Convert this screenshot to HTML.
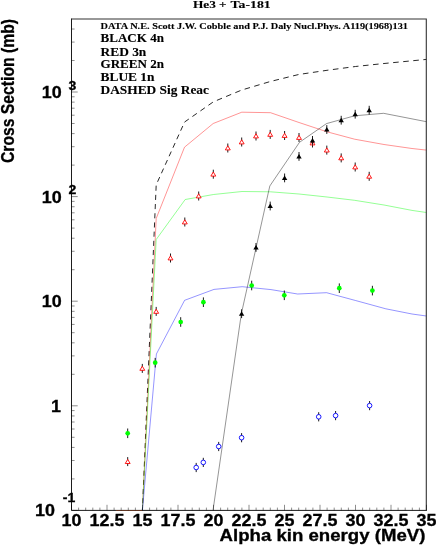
<!DOCTYPE html>
<html><head><meta charset="utf-8"><title>He3 + Ta-181</title>
<style>html,body{margin:0;padding:0;background:#fff;}svg{display:block;will-change:transform;}text{font-family:"Liberation Sans",sans-serif;font-weight:bold;fill:#000;stroke:#000;stroke-width:0.3px;}.t{font-family:"Liberation Serif",serif;font-weight:bold;stroke-width:0.12px;}</style>
</head><body>
<svg width="436" height="545" viewBox="0 0 436 545">
<rect x="0" y="0" width="436" height="545" fill="#fff"/>
<polyline transform="scale(1.1,1)" points="129.45,510.4 142.00,184.8 167.82,122.0 194.00,101.8 219.82,90.0 245.73,81.5 271.55,74.5 297.27,70.3 323.18,66.5 349.09,63.5 374.55,60.8 387.64,59.4" fill="none" stroke="#000" stroke-width="0.8" stroke-dasharray="5.1 4.1" stroke-dashoffset="2.1"/>
<polyline points="142.4,510.4 156.2,218.5 184.5,147.2 213.2,123.5 241.8,112.2 270.5,112.7 299.0,122.5 327.0,131.8 354.6,139.2 384.0,144.5 412.0,148.5 426.4,150.1" fill="none" stroke="#f00" stroke-width="0.42" stroke-linejoin="round" />
<polyline points="142.4,510.4 156.2,239.5 185.2,199.5 213.5,194.5 242.0,191.5 270.4,191.8 299.0,194.0 327.0,197.0 354.6,200.3 384.0,205.0 412.0,210.4 426.4,212.5" fill="none" stroke="#0f0" stroke-width="0.42" stroke-linejoin="round" />
<polyline points="142.4,510.4 156.4,354.0 184.6,300.3 214.0,289.4 242.2,286.7 271.0,289.6 297.6,294.0 326.6,292.7 355.5,300.5 385.8,308.8 412.0,314.0 426.4,316.0" fill="none" stroke="#00f" stroke-width="0.42" stroke-linejoin="round" />
<polyline points="213.0,510.4 241.3,314.0 269.8,186.0 299.5,142.3 326.5,123.6 354.6,115.8 383.6,113.3 426.4,121.7" fill="none" stroke="#000" stroke-width="0.42" stroke-linejoin="round" />
<line x1="127.7" y1="457.1" x2="127.7" y2="466.1" stroke="#000" stroke-width="0.9"/>
<path d="M125.25,463.5 L130.15,463.5 L127.7,459.4 Z" fill="#fff" stroke="#f00" stroke-width="0.9"/>
<line x1="142.3" y1="363.9" x2="142.3" y2="372.9" stroke="#000" stroke-width="0.9"/>
<path d="M139.85,370.3 L144.75,370.3 L142.3,366.2 Z" fill="#fff" stroke="#f00" stroke-width="0.9"/>
<line x1="156.2" y1="306.9" x2="156.2" y2="315.9" stroke="#000" stroke-width="0.9"/>
<path d="M153.75,313.3 L158.65,313.3 L156.2,309.2 Z" fill="#fff" stroke="#f00" stroke-width="0.9"/>
<line x1="170.5" y1="253.5" x2="170.5" y2="262.5" stroke="#000" stroke-width="0.9"/>
<path d="M168.05,259.9 L172.95,259.9 L170.5,255.8 Z" fill="#fff" stroke="#f00" stroke-width="0.9"/>
<line x1="184.8" y1="217.5" x2="184.8" y2="226.5" stroke="#000" stroke-width="0.9"/>
<path d="M182.35,223.9 L187.25,223.9 L184.8,219.8 Z" fill="#fff" stroke="#f00" stroke-width="0.9"/>
<line x1="198.7" y1="191.5" x2="198.7" y2="200.5" stroke="#000" stroke-width="0.9"/>
<path d="M196.25,197.9 L201.15,197.9 L198.7,193.8 Z" fill="#fff" stroke="#f00" stroke-width="0.9"/>
<line x1="213.3" y1="169.7" x2="213.3" y2="178.7" stroke="#000" stroke-width="0.9"/>
<path d="M210.85,176.1 L215.75,176.1 L213.3,172.0 Z" fill="#fff" stroke="#f00" stroke-width="0.9"/>
<line x1="227.8" y1="143.5" x2="227.8" y2="152.5" stroke="#000" stroke-width="0.9"/>
<path d="M225.35,149.9 L230.25,149.9 L227.8,145.8 Z" fill="#fff" stroke="#f00" stroke-width="0.9"/>
<line x1="241.7" y1="137.5" x2="241.7" y2="146.5" stroke="#000" stroke-width="0.9"/>
<path d="M239.25,143.9 L244.15,143.9 L241.7,139.8 Z" fill="#fff" stroke="#f00" stroke-width="0.9"/>
<line x1="256.0" y1="131.5" x2="256.0" y2="140.5" stroke="#000" stroke-width="0.9"/>
<path d="M253.55,137.9 L258.45,137.9 L256.0,133.8 Z" fill="#fff" stroke="#f00" stroke-width="0.9"/>
<line x1="270.2" y1="129.9" x2="270.2" y2="138.9" stroke="#000" stroke-width="0.9"/>
<path d="M267.75,136.3 L272.65,136.3 L270.2,132.2 Z" fill="#fff" stroke="#f00" stroke-width="0.9"/>
<line x1="284.6" y1="131.0" x2="284.6" y2="140.0" stroke="#000" stroke-width="0.9"/>
<path d="M282.15,137.4 L287.05,137.4 L284.6,133.3 Z" fill="#fff" stroke="#f00" stroke-width="0.9"/>
<line x1="299.0" y1="133.0" x2="299.0" y2="142.0" stroke="#000" stroke-width="0.9"/>
<path d="M296.55,139.4 L301.45,139.4 L299.0,135.3 Z" fill="#fff" stroke="#f00" stroke-width="0.9"/>
<line x1="312.5" y1="138.5" x2="312.5" y2="147.5" stroke="#000" stroke-width="0.9"/>
<path d="M310.05,144.9 L314.95,144.9 L312.5,140.8 Z" fill="#fff" stroke="#f00" stroke-width="0.9"/>
<line x1="326.8" y1="145.6" x2="326.8" y2="154.6" stroke="#000" stroke-width="0.9"/>
<path d="M324.35,152.0 L329.25,152.0 L326.8,147.9 Z" fill="#fff" stroke="#f00" stroke-width="0.9"/>
<line x1="341.2" y1="153.4" x2="341.2" y2="162.4" stroke="#000" stroke-width="0.9"/>
<path d="M338.75,159.8 L343.65,159.8 L341.2,155.7 Z" fill="#fff" stroke="#f00" stroke-width="0.9"/>
<line x1="355.2" y1="162.5" x2="355.2" y2="171.5" stroke="#000" stroke-width="0.9"/>
<path d="M352.75,168.9 L357.65,168.9 L355.2,164.8 Z" fill="#fff" stroke="#f00" stroke-width="0.9"/>
<line x1="369.2" y1="171.8" x2="369.2" y2="180.8" stroke="#000" stroke-width="0.9"/>
<path d="M366.75,178.2 L371.65,178.2 L369.2,174.1 Z" fill="#fff" stroke="#f00" stroke-width="0.9"/>
<line x1="241.6" y1="309.3" x2="241.6" y2="318.1" stroke="#000" stroke-width="0.9"/>
<path d="M238.9,315.7 L244.3,315.7 L241.6,311.3 Z" fill="#000"/>
<line x1="256.0" y1="243.0" x2="256.0" y2="251.8" stroke="#000" stroke-width="0.9"/>
<path d="M253.3,249.4 L258.7,249.4 L256.0,245.0 Z" fill="#000"/>
<line x1="270.2" y1="201.6" x2="270.2" y2="210.4" stroke="#000" stroke-width="0.9"/>
<path d="M267.5,208.0 L272.9,208.0 L270.2,203.6 Z" fill="#000"/>
<line x1="284.6" y1="173.5" x2="284.6" y2="182.3" stroke="#000" stroke-width="0.9"/>
<path d="M281.9,179.9 L287.3,179.9 L284.6,175.5 Z" fill="#000"/>
<line x1="299.0" y1="152.0" x2="299.0" y2="160.8" stroke="#000" stroke-width="0.9"/>
<path d="M296.3,158.4 L301.7,158.4 L299.0,154.0 Z" fill="#000"/>
<line x1="312.5" y1="136.0" x2="312.5" y2="144.8" stroke="#000" stroke-width="0.9"/>
<path d="M309.8,142.4 L315.2,142.4 L312.5,138.0 Z" fill="#000"/>
<line x1="326.8" y1="125.1" x2="326.8" y2="133.9" stroke="#000" stroke-width="0.9"/>
<path d="M324.1,131.5 L329.5,131.5 L326.8,127.1 Z" fill="#000"/>
<line x1="341.2" y1="115.8" x2="341.2" y2="124.6" stroke="#000" stroke-width="0.9"/>
<path d="M338.5,122.2 L343.9,122.2 L341.2,117.8 Z" fill="#000"/>
<line x1="355.2" y1="109.8" x2="355.2" y2="118.6" stroke="#000" stroke-width="0.9"/>
<path d="M352.5,116.2 L357.9,116.2 L355.2,111.8 Z" fill="#000"/>
<line x1="369.2" y1="105.8" x2="369.2" y2="114.6" stroke="#000" stroke-width="0.9"/>
<path d="M366.5,112.2 L371.9,112.2 L369.2,107.8 Z" fill="#000"/>
<line x1="127.7" y1="428.5" x2="127.7" y2="438.1" stroke="#000" stroke-width="0.9"/>
<circle cx="127.7" cy="433.3" r="2.35" fill="#0f0"/>
<line x1="155.2" y1="357.9" x2="155.2" y2="367.5" stroke="#000" stroke-width="0.9"/>
<circle cx="155.2" cy="362.7" r="2.35" fill="#0f0"/>
<line x1="180.7" y1="317.2" x2="180.7" y2="326.8" stroke="#000" stroke-width="0.9"/>
<circle cx="180.7" cy="322.0" r="2.35" fill="#0f0"/>
<line x1="203.4" y1="297.4" x2="203.4" y2="307.0" stroke="#000" stroke-width="0.9"/>
<circle cx="203.4" cy="302.2" r="2.35" fill="#0f0"/>
<line x1="251.7" y1="280.7" x2="251.7" y2="290.3" stroke="#000" stroke-width="0.9"/>
<circle cx="251.7" cy="285.5" r="2.35" fill="#0f0"/>
<line x1="284.3" y1="290.5" x2="284.3" y2="300.1" stroke="#000" stroke-width="0.9"/>
<circle cx="284.3" cy="295.3" r="2.35" fill="#0f0"/>
<line x1="339.3" y1="283.4" x2="339.3" y2="293.0" stroke="#000" stroke-width="0.9"/>
<circle cx="339.3" cy="288.2" r="2.35" fill="#0f0"/>
<line x1="372.4" y1="285.8" x2="372.4" y2="295.4" stroke="#000" stroke-width="0.9"/>
<circle cx="372.4" cy="290.6" r="2.35" fill="#0f0"/>
<line x1="196.2" y1="462.9" x2="196.2" y2="472.1" stroke="#000" stroke-width="0.9"/>
<circle cx="196.2" cy="467.5" r="2.3" fill="#fff" stroke="#00f" stroke-width="0.9"/>
<line x1="203.3" y1="457.8" x2="203.3" y2="467.0" stroke="#000" stroke-width="0.9"/>
<circle cx="203.3" cy="462.4" r="2.3" fill="#fff" stroke="#00f" stroke-width="0.9"/>
<line x1="218.7" y1="441.9" x2="218.7" y2="451.1" stroke="#000" stroke-width="0.9"/>
<circle cx="218.7" cy="446.5" r="2.3" fill="#fff" stroke="#00f" stroke-width="0.9"/>
<line x1="241.6" y1="433.1" x2="241.6" y2="442.3" stroke="#000" stroke-width="0.9"/>
<circle cx="241.6" cy="437.7" r="2.3" fill="#fff" stroke="#00f" stroke-width="0.9"/>
<line x1="318.7" y1="412.2" x2="318.7" y2="421.4" stroke="#000" stroke-width="0.9"/>
<circle cx="318.7" cy="416.8" r="2.3" fill="#fff" stroke="#00f" stroke-width="0.9"/>
<line x1="335.6" y1="411.0" x2="335.6" y2="420.2" stroke="#000" stroke-width="0.9"/>
<circle cx="335.6" cy="415.6" r="2.3" fill="#fff" stroke="#00f" stroke-width="0.9"/>
<line x1="369.6" y1="401.0" x2="369.6" y2="410.2" stroke="#000" stroke-width="0.9"/>
<circle cx="369.6" cy="405.6" r="2.3" fill="#fff" stroke="#00f" stroke-width="0.9"/>
<path d="M71.5,19.0 H426.3 V510.4" fill="none" stroke="#333" stroke-width="1.1"/>
<path d="M71.5,18.5 V510.4 H426.8" fill="none" stroke="#111" stroke-width="0.95"/>
<line x1="116" y1="510.5" x2="142.4" y2="510.5" stroke="#d40" stroke-width="0.5" opacity="0.55"/>
<line x1="71.50" y1="510.4" x2="71.50" y2="504.79999999999995" stroke="#000" stroke-width="0.45"/>
<line x1="78.60" y1="510.4" x2="78.60" y2="507.59999999999997" stroke="#000" stroke-width="0.45"/>
<line x1="85.70" y1="510.4" x2="85.70" y2="507.59999999999997" stroke="#000" stroke-width="0.45"/>
<line x1="92.80" y1="510.4" x2="92.80" y2="507.59999999999997" stroke="#000" stroke-width="0.45"/>
<line x1="99.90" y1="510.4" x2="99.90" y2="507.59999999999997" stroke="#000" stroke-width="0.45"/>
<line x1="107.00" y1="510.4" x2="107.00" y2="504.79999999999995" stroke="#000" stroke-width="0.45"/>
<line x1="114.10" y1="510.4" x2="114.10" y2="507.59999999999997" stroke="#000" stroke-width="0.45"/>
<line x1="121.20" y1="510.4" x2="121.20" y2="507.59999999999997" stroke="#000" stroke-width="0.45"/>
<line x1="128.30" y1="510.4" x2="128.30" y2="507.59999999999997" stroke="#000" stroke-width="0.45"/>
<line x1="135.40" y1="510.4" x2="135.40" y2="507.59999999999997" stroke="#000" stroke-width="0.45"/>
<line x1="142.50" y1="510.4" x2="142.50" y2="504.79999999999995" stroke="#000" stroke-width="0.45"/>
<line x1="149.60" y1="510.4" x2="149.60" y2="507.59999999999997" stroke="#000" stroke-width="0.45"/>
<line x1="156.70" y1="510.4" x2="156.70" y2="507.59999999999997" stroke="#000" stroke-width="0.45"/>
<line x1="163.80" y1="510.4" x2="163.80" y2="507.59999999999997" stroke="#000" stroke-width="0.45"/>
<line x1="170.90" y1="510.4" x2="170.90" y2="507.59999999999997" stroke="#000" stroke-width="0.45"/>
<line x1="178.00" y1="510.4" x2="178.00" y2="504.79999999999995" stroke="#000" stroke-width="0.45"/>
<line x1="185.10" y1="510.4" x2="185.10" y2="507.59999999999997" stroke="#000" stroke-width="0.45"/>
<line x1="192.20" y1="510.4" x2="192.20" y2="507.59999999999997" stroke="#000" stroke-width="0.45"/>
<line x1="199.30" y1="510.4" x2="199.30" y2="507.59999999999997" stroke="#000" stroke-width="0.45"/>
<line x1="206.40" y1="510.4" x2="206.40" y2="507.59999999999997" stroke="#000" stroke-width="0.45"/>
<line x1="213.50" y1="510.4" x2="213.50" y2="504.79999999999995" stroke="#000" stroke-width="0.45"/>
<line x1="220.60" y1="510.4" x2="220.60" y2="507.59999999999997" stroke="#000" stroke-width="0.45"/>
<line x1="227.70" y1="510.4" x2="227.70" y2="507.59999999999997" stroke="#000" stroke-width="0.45"/>
<line x1="234.80" y1="510.4" x2="234.80" y2="507.59999999999997" stroke="#000" stroke-width="0.45"/>
<line x1="241.90" y1="510.4" x2="241.90" y2="507.59999999999997" stroke="#000" stroke-width="0.45"/>
<line x1="249.00" y1="510.4" x2="249.00" y2="504.79999999999995" stroke="#000" stroke-width="0.45"/>
<line x1="256.10" y1="510.4" x2="256.10" y2="507.59999999999997" stroke="#000" stroke-width="0.45"/>
<line x1="263.20" y1="510.4" x2="263.20" y2="507.59999999999997" stroke="#000" stroke-width="0.45"/>
<line x1="270.30" y1="510.4" x2="270.30" y2="507.59999999999997" stroke="#000" stroke-width="0.45"/>
<line x1="277.40" y1="510.4" x2="277.40" y2="507.59999999999997" stroke="#000" stroke-width="0.45"/>
<line x1="284.50" y1="510.4" x2="284.50" y2="504.79999999999995" stroke="#000" stroke-width="0.45"/>
<line x1="291.60" y1="510.4" x2="291.60" y2="507.59999999999997" stroke="#000" stroke-width="0.45"/>
<line x1="298.70" y1="510.4" x2="298.70" y2="507.59999999999997" stroke="#000" stroke-width="0.45"/>
<line x1="305.80" y1="510.4" x2="305.80" y2="507.59999999999997" stroke="#000" stroke-width="0.45"/>
<line x1="312.90" y1="510.4" x2="312.90" y2="507.59999999999997" stroke="#000" stroke-width="0.45"/>
<line x1="320.00" y1="510.4" x2="320.00" y2="504.79999999999995" stroke="#000" stroke-width="0.45"/>
<line x1="327.10" y1="510.4" x2="327.10" y2="507.59999999999997" stroke="#000" stroke-width="0.45"/>
<line x1="334.20" y1="510.4" x2="334.20" y2="507.59999999999997" stroke="#000" stroke-width="0.45"/>
<line x1="341.30" y1="510.4" x2="341.30" y2="507.59999999999997" stroke="#000" stroke-width="0.45"/>
<line x1="348.40" y1="510.4" x2="348.40" y2="507.59999999999997" stroke="#000" stroke-width="0.45"/>
<line x1="355.50" y1="510.4" x2="355.50" y2="504.79999999999995" stroke="#000" stroke-width="0.45"/>
<line x1="362.60" y1="510.4" x2="362.60" y2="507.59999999999997" stroke="#000" stroke-width="0.45"/>
<line x1="369.70" y1="510.4" x2="369.70" y2="507.59999999999997" stroke="#000" stroke-width="0.45"/>
<line x1="376.80" y1="510.4" x2="376.80" y2="507.59999999999997" stroke="#000" stroke-width="0.45"/>
<line x1="383.90" y1="510.4" x2="383.90" y2="507.59999999999997" stroke="#000" stroke-width="0.45"/>
<line x1="391.00" y1="510.4" x2="391.00" y2="504.79999999999995" stroke="#000" stroke-width="0.45"/>
<line x1="398.10" y1="510.4" x2="398.10" y2="507.59999999999997" stroke="#000" stroke-width="0.45"/>
<line x1="405.20" y1="510.4" x2="405.20" y2="507.59999999999997" stroke="#000" stroke-width="0.45"/>
<line x1="412.30" y1="510.4" x2="412.30" y2="507.59999999999997" stroke="#000" stroke-width="0.45"/>
<line x1="419.40" y1="510.4" x2="419.40" y2="507.59999999999997" stroke="#000" stroke-width="0.45"/>
<line x1="426.50" y1="510.4" x2="426.50" y2="504.79999999999995" stroke="#000" stroke-width="0.45"/>
<line x1="71.5" y1="510.40" x2="77.7" y2="510.40" stroke="#000" stroke-width="0.45"/>
<line x1="71.5" y1="478.91" x2="74.6" y2="478.91" stroke="#000" stroke-width="0.45"/>
<line x1="71.5" y1="460.49" x2="74.6" y2="460.49" stroke="#000" stroke-width="0.45"/>
<line x1="71.5" y1="447.42" x2="74.6" y2="447.42" stroke="#000" stroke-width="0.45"/>
<line x1="71.5" y1="437.29" x2="74.6" y2="437.29" stroke="#000" stroke-width="0.45"/>
<line x1="71.5" y1="429.01" x2="74.6" y2="429.01" stroke="#000" stroke-width="0.45"/>
<line x1="71.5" y1="422.00" x2="74.6" y2="422.00" stroke="#000" stroke-width="0.45"/>
<line x1="71.5" y1="415.94" x2="74.6" y2="415.94" stroke="#000" stroke-width="0.45"/>
<line x1="71.5" y1="410.59" x2="74.6" y2="410.59" stroke="#000" stroke-width="0.45"/>
<line x1="71.5" y1="405.80" x2="77.7" y2="405.80" stroke="#000" stroke-width="0.45"/>
<line x1="71.5" y1="374.31" x2="74.6" y2="374.31" stroke="#000" stroke-width="0.45"/>
<line x1="71.5" y1="355.89" x2="74.6" y2="355.89" stroke="#000" stroke-width="0.45"/>
<line x1="71.5" y1="342.82" x2="74.6" y2="342.82" stroke="#000" stroke-width="0.45"/>
<line x1="71.5" y1="332.69" x2="74.6" y2="332.69" stroke="#000" stroke-width="0.45"/>
<line x1="71.5" y1="324.41" x2="74.6" y2="324.41" stroke="#000" stroke-width="0.45"/>
<line x1="71.5" y1="317.40" x2="74.6" y2="317.40" stroke="#000" stroke-width="0.45"/>
<line x1="71.5" y1="311.34" x2="74.6" y2="311.34" stroke="#000" stroke-width="0.45"/>
<line x1="71.5" y1="305.99" x2="74.6" y2="305.99" stroke="#000" stroke-width="0.45"/>
<line x1="71.5" y1="301.20" x2="77.7" y2="301.20" stroke="#000" stroke-width="0.45"/>
<line x1="71.5" y1="269.71" x2="74.6" y2="269.71" stroke="#000" stroke-width="0.45"/>
<line x1="71.5" y1="251.29" x2="74.6" y2="251.29" stroke="#000" stroke-width="0.45"/>
<line x1="71.5" y1="238.22" x2="74.6" y2="238.22" stroke="#000" stroke-width="0.45"/>
<line x1="71.5" y1="228.09" x2="74.6" y2="228.09" stroke="#000" stroke-width="0.45"/>
<line x1="71.5" y1="219.81" x2="74.6" y2="219.81" stroke="#000" stroke-width="0.45"/>
<line x1="71.5" y1="212.80" x2="74.6" y2="212.80" stroke="#000" stroke-width="0.45"/>
<line x1="71.5" y1="206.74" x2="74.6" y2="206.74" stroke="#000" stroke-width="0.45"/>
<line x1="71.5" y1="201.39" x2="74.6" y2="201.39" stroke="#000" stroke-width="0.45"/>
<line x1="71.5" y1="196.60" x2="77.7" y2="196.60" stroke="#000" stroke-width="0.45"/>
<line x1="71.5" y1="165.11" x2="74.6" y2="165.11" stroke="#000" stroke-width="0.45"/>
<line x1="71.5" y1="146.69" x2="74.6" y2="146.69" stroke="#000" stroke-width="0.45"/>
<line x1="71.5" y1="133.62" x2="74.6" y2="133.62" stroke="#000" stroke-width="0.45"/>
<line x1="71.5" y1="123.49" x2="74.6" y2="123.49" stroke="#000" stroke-width="0.45"/>
<line x1="71.5" y1="115.21" x2="74.6" y2="115.21" stroke="#000" stroke-width="0.45"/>
<line x1="71.5" y1="108.20" x2="74.6" y2="108.20" stroke="#000" stroke-width="0.45"/>
<line x1="71.5" y1="102.14" x2="74.6" y2="102.14" stroke="#000" stroke-width="0.45"/>
<line x1="71.5" y1="96.79" x2="74.6" y2="96.79" stroke="#000" stroke-width="0.45"/>
<line x1="71.5" y1="92.00" x2="77.7" y2="92.00" stroke="#000" stroke-width="0.45"/>
<line x1="71.5" y1="60.51" x2="74.6" y2="60.51" stroke="#000" stroke-width="0.45"/>
<line x1="71.5" y1="42.09" x2="74.6" y2="42.09" stroke="#000" stroke-width="0.45"/>
<line x1="71.5" y1="29.02" x2="74.6" y2="29.02" stroke="#000" stroke-width="0.45"/>
<text transform="translate(71.5,526) scale(1.12,0.98)" font-size="16" text-anchor="middle">10</text>
<text transform="translate(107.0,526) scale(1.12,0.98)" font-size="16" text-anchor="middle">12.5</text>
<text transform="translate(142.5,526) scale(1.12,0.98)" font-size="16" text-anchor="middle">15</text>
<text transform="translate(178.0,526) scale(1.12,0.98)" font-size="16" text-anchor="middle">17.5</text>
<text transform="translate(213.5,526) scale(1.12,0.98)" font-size="16" text-anchor="middle">20</text>
<text transform="translate(249.0,526) scale(1.12,0.98)" font-size="16" text-anchor="middle">22.5</text>
<text transform="translate(284.5,526) scale(1.12,0.98)" font-size="16" text-anchor="middle">25</text>
<text transform="translate(320.0,526) scale(1.12,0.98)" font-size="16" text-anchor="middle">27.5</text>
<text transform="translate(355.5,526) scale(1.12,0.98)" font-size="16" text-anchor="middle">30</text>
<text transform="translate(391.0,526) scale(1.12,0.98)" font-size="16" text-anchor="middle">32.5</text>
<text transform="translate(426.5,526) scale(1.12,0.98)" font-size="16" text-anchor="middle">35</text>
<text transform="translate(61.6,97.9) scale(1.12,0.98)" font-size="16" text-anchor="end">10</text>
<text transform="translate(76.2,89.6) scale(1.15,1.03)" font-size="12.2" text-anchor="end">3</text>
<text transform="translate(61.6,202.5) scale(1.12,0.98)" font-size="16" text-anchor="end">10</text>
<text transform="translate(76.2,194.2) scale(1.15,1.03)" font-size="12.2" text-anchor="end">2</text>
<text transform="translate(61.6,307.1) scale(1.12,0.98)" font-size="16" text-anchor="end">10</text>
<text transform="translate(60.9,411.7) scale(1.12,0.98)" font-size="16" text-anchor="end">1</text>
<text transform="translate(54.9,516.3) scale(1.12,0.98)" font-size="16" text-anchor="end">10</text>
<text transform="translate(75.2,502.3) scale(1.15,1.03)" font-size="12.2" text-anchor="end">-1</text>
<text x="219.6" y="540.9" font-size="15.8" textLength="205.8" lengthAdjust="spacingAndGlyphs">Alpha kin energy (MeV)</text>
<text transform="translate(14.4,163.0) rotate(-90) scale(0.982,1.10)" font-size="16">Cross Section (mb)</text>
<text class="t" transform="translate(193.0,7.5) scale(1.17,1)" font-size="11.4">He3</text>
<text class="t" transform="translate(218.9,7.5) scale(1.15,1)" font-size="11.4">+</text>
<text class="t" transform="translate(230.6,7.5) scale(1.21,1)" font-size="11.4">Ta-181</text>
<text class="t" x="100.5" y="29.3" font-size="8.9" textLength="307.5" lengthAdjust="spacingAndGlyphs">DATA N.E. Scott J.W. Cobble and P.J. Daly Nucl.Phys. A119(1968)131</text>
<text class="t" x="100.5" y="42.1" font-size="12.2" textLength="63.5" lengthAdjust="spacingAndGlyphs">BLACK 4n</text>
<text class="t" transform="translate(100.5,55.6) scale(1.1,1)" font-size="12.2">RED 3n</text>
<text class="t" x="100.5" y="68.3" font-size="12.2" textLength="63.5" lengthAdjust="spacingAndGlyphs">GREEN 2n</text>
<text class="t" transform="translate(100.5,81.2) scale(1.1,1)" font-size="12.2">BLUE 1n</text>
<text class="t" x="100.5" y="94.0" font-size="12.2" textLength="108.5" lengthAdjust="spacingAndGlyphs">DASHED Sig Reac</text>
</svg></body></html>
